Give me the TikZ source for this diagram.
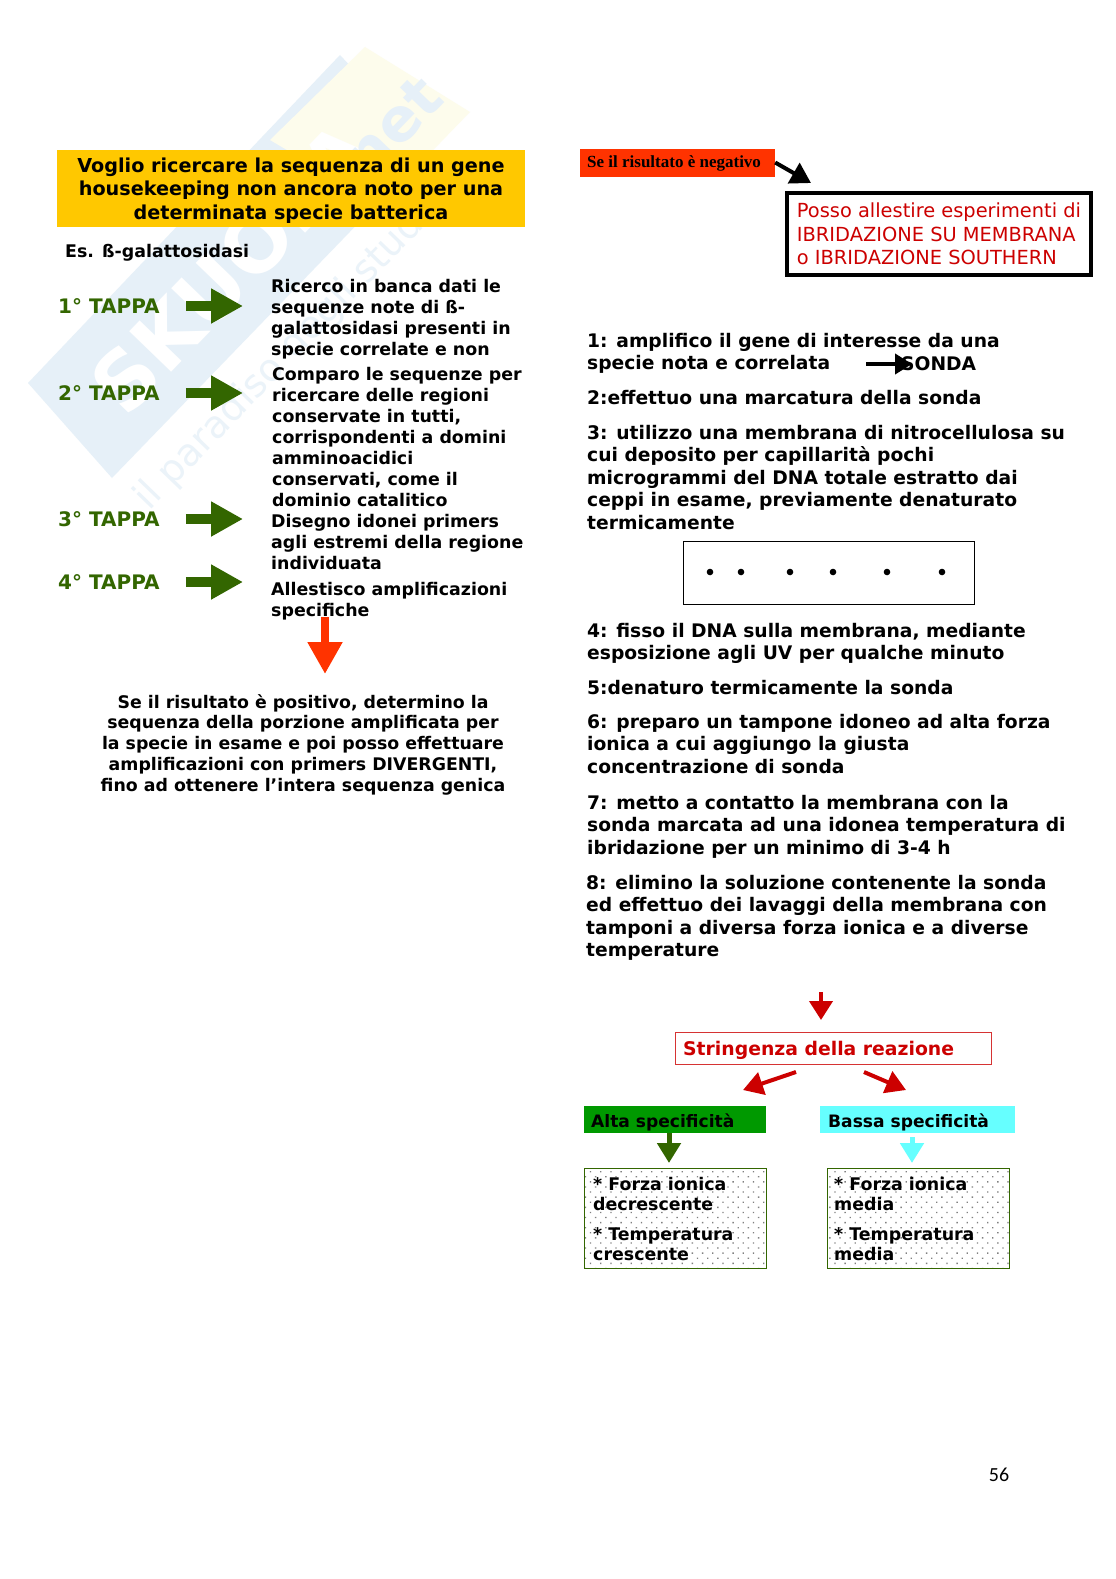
\documentclass[tikz,border=0pt]{standalone}
\usepackage{fontspec}
\setmainfont{DejaVu Sans}
\newfontfamily\timesbold{Liberation Serif}[BoldFont={Liberation Serif Bold}]
\newfontfamily\pagefont{Carlito}
\usetikzlibrary{arrows.meta,patterns.meta}
\definecolor{tappagreen}{HTML}{336600}
\definecolor{giallo}{HTML}{FFC800}
\definecolor{rosso}{HTML}{FF3300}
\definecolor{rossoscuro}{HTML}{CC0000}
\definecolor{ciano}{HTML}{66FFFF}
\definecolor{marchio}{HTML}{E6F0F8}
\definecolor{marchiogiallo}{HTML}{FDFCEC}
\tikzset{
    blocktext/.style={inner sep=0pt,anchor=north west,align=left,font=\bfseries\fontsize{17.4}{21}\selectfont},
    steptext/.style={inner sep=0pt,anchor=north west,align=left,font=\bfseries\fontsize{18.7}{22.4}\selectfont},
    tappalabel/.style={inner sep=0pt,anchor=west,text=tappagreen,font=\bfseries\fontsize{20}{21}\selectfont},
    greenarrow/.style={draw=tappagreen,line width=10pt,-{Triangle[length=32pt,width=33pt]},shorten <=26pt},
    redarrow/.style={draw=rossoscuro,line width=4pt,-{Triangle[length=20pt,width=23pt]}},
    dotbox/.style={draw=tappagreen,line width=1.2pt,minimum width=182pt,minimum height=100pt,anchor=north west,inner sep=0pt,fill=white,
        pattern={Dots[distance=7.2pt,radius=.95pt,angle=45]},pattern color=gray},
    specbox/.style={minimum height=27pt,anchor=north west,inner sep=0pt},
    boxtext/.style={inner sep=0pt,anchor=north west,align=left,font=\bfseries\fontsize{17.4}{20.3}\selectfont}
}
\begin{document}
\begin{tikzpicture}[x=1pt,y=-1pt]
    \useasboundingbox (0,0) rectangle (1116,1579);
    \fill[white] (0,0) rectangle (1116,1579);

    % watermark
    \fill[marchio] (28,383) -- (340,55) -- (429,150) -- (112,478) -- cycle;
    \fill[marchiogiallo] (365,47) -- (470,112) -- (380,205) -- (270,140) -- cycle;
    \node[rotate=46,white,font=\bfseries\fontsize{80}{80}\selectfont,inner sep=0pt] (marchio) at (232,268) {SKUOLA};
    \node[rotate=46,marchio,font=\bfseries\fontsize{60}{60}\selectfont,inner sep=0pt] (marchionet) at (385,135) {.net};
    \node[rotate=46,marchio!80!white,font=\fontsize{38}{38}\selectfont,inner sep=0pt] (motto) at (305,335) {il paradiso degli studenti};

    % left column
    \node[fill=giallo,minimum width=468pt,minimum height=77pt,inner sep=0pt] (titolo) at (291,188) {};
    \node[inner sep=0pt,align=center,font=\bfseries\fontsize{19.2}{23.3}\selectfont] (titolotesto) at (291,190.5)
          {Voglio ricercare la sequenza di un gene\\ housekeeping non ancora noto per una\\ determinata specie batterica};
    \node[blocktext,anchor=west] (esempio) at (65,253) {Es. ß-galattosidasi};

    \node[tappalabel] (tappa1) at (58,306) {1° TAPPA};
    \node[tappalabel] (tappa2) at (58,393) {2° TAPPA};
    \node[tappalabel] (tappa3) at (58,519) {3° TAPPA};
    \node[tappalabel] (tappa4) at (58,582) {4° TAPPA};

    \node[blocktext] (ricerco) at (271,279) {Ricerco in banca dati le\\ sequenze note di ß-\\ galattosidasi presenti in\\ specie correlate e non};
    \node[blocktext] (comparo) at (272,367) {Comparo le sequenze per\\ ricercare delle regioni\\ conservate in tutti,\\ corrispondenti a domini\\ amminoacidici\\ conservati, come il\\ dominio catalitico};
    \node[blocktext] (disegno) at (271,514) {Disegno idonei primers\\ agli estremi della regione\\ individuata};
    \node[blocktext] (allestisco) at (271,582) {Allestisco amplificazioni\\ specifiche};

    \coordinate (punta1) at (243,306);
    \coordinate (punta2) at (243,393);
    \coordinate (punta3) at (243,519);
    \coordinate (punta4) at (243,582);
    \foreach \n in {1,...,4}
        \draw[greenarrow] (tappa\n.east) -- (punta\n);

    \node[inner sep=0pt,align=center,font=\bfseries\fontsize{17.35}{20.8}\selectfont,anchor=north] (positivo) at (303,694)
        {Se il risultato è positivo, determino la\\ sequenza della porzione amplificata per\\ la specie in esame e poi posso effettuare\\ amplificazioni con primers DIVERGENTI,\\ fino ad ottenere l’intera sequenza genica};
    \coordinate (rossoinizio) at (325,617);
    \coordinate (rossofine) at (325,674);
    \draw[draw=rosso,line width=8pt,-{Triangle[length=32pt,width=33pt]}] (rossoinizio) -- (rossofine);

    % right column
    \node[fill=rosso,minimum width=195pt,minimum height=28pt,inner sep=0pt] (negativo) at (677.5,162.5) {};
    \node[inner sep=0pt,anchor=west,font=\timesbold\bfseries\fontsize{17}{18}\selectfont] (negtesto) at (587,163) {Se il risultato è negativo};
    \node[draw=black,line width=4pt,minimum width=304pt,minimum height=82pt,inner sep=0pt,text=rossoscuro,align=left,
          font=\fontsize{19.4}{23.3}\selectfont] (posso) at (939,234)
        {Posso allestire esperimenti di\\ IBRIDAZIONE SU MEMBRANA\\ o IBRIDAZIONE SOUTHERN};
    \coordinate (puntaneg) at (811,183);
    \draw[black,line width=4pt,-{Triangle[length=20pt,width=23pt]}] (negativo.east) -- (puntaneg);

    \node[steptext] (passo1) at (587,333) {1: amplifico il gene di interesse da una\\ specie nota e correlata};
    \node[steptext,anchor=west] (sonda) at (901,364) {SONDA};
    \coordinate (sondainizio) at (866,364);
    \draw[black,line width=4pt,-{Triangle[length=17pt,width=20pt]}] (sondainizio) -- (sonda.west) -- ++(11,0);
    \node[steptext] (passo2) at (587,390) {2:effettuo una marcatura della sonda};
    \node[steptext] (passo3) at (587,425) {3: utilizzo una membrana di nitrocellulosa su\\ cui deposito per capillarità pochi\\ microgrammi del DNA totale estratto dai\\ ceppi in esame, previamente denaturato\\ termicamente};

    \node[draw=black,line width=1.4pt,minimum width=291pt,minimum height=63pt,inner sep=0pt,anchor=north west] (membrana) at (683,541) {};
    \foreach \x in {710,741,790,833,887,942}
        \fill[black] (\x,572) circle (3.3pt);

    \node[steptext] (passo4) at (587,623) {4: fisso il DNA sulla membrana, mediante\\ esposizione agli UV per qualche minuto};
    \node[steptext] (passo5) at (587,680) {5:denaturo termicamente la sonda};
    \node[steptext] (passo6) at (587,714) {6: preparo un tampone idoneo ad alta forza\\ ionica a cui aggiungo la giusta\\ concentrazione di sonda};
    \node[steptext] (passo7) at (587,795) {7: metto a contatto la membrana con la\\ sonda marcata ad una idonea temperatura di\\ ibridazione per un minimo di 3-4 h};
    \node[steptext] (passo8) at (586,875) {8: elimino la soluzione contenente la sonda\\ ed effettuo dei lavaggi della membrana con\\ tamponi a diversa forza ionica e a diverse\\ temperature};

    \node[draw=rossoscuro!80,line width=1.2pt,minimum width=316pt,minimum height=32pt,inner sep=0pt,anchor=north west] (stringenza) at (675,1032) {};
    \node[inner sep=0pt,anchor=west,text=rossoscuro,font=\bfseries\fontsize{18.8}{22}\selectfont] (stringtesto) at (683,1050) {Stringenza della reazione};
    \coordinate (iniziostr) at (821,992);
    \draw[redarrow,-{Triangle[length=19pt,width=23pt]},shorten >=12pt] (iniziostr) -- (stringenza.north -| iniziostr);

    \node[specbox,fill=green!60!black,minimum width=182pt] (alta) at (584,1106) {};
    \node[inner sep=0pt,anchor=west,text=black,font=\bfseries\fontsize{17.1}{20}\selectfont] (altatesto) at (591,1122) {Alta specificità};
    \node[specbox,fill=ciano,minimum width=195pt] (bassa) at (820,1106) {};
    \node[inner sep=0pt,anchor=west,text=black,font=\bfseries\fontsize{17.1}{20}\selectfont] (bassatesto) at (828,1122) {Bassa specificità};

    \coordinate (altapunta) at (743,1090);
    \coordinate (bassapunta) at (906,1090);
    \coordinate (altainizio) at (796,1072);
    \coordinate (bassainizio) at (864,1072);
    \draw[redarrow] (altainizio) -- (altapunta);
    \draw[redarrow] (bassainizio) -- (bassapunta);

    \node[dotbox] (altabox) at (584,1168) {};
    \node[dotbox] (bassabox) at (827,1168) {};
    \node[boxtext] (altatext) at (593,1177) {* Forza ionica\\ decrescente\\[9pt] * Temperatura\\ crescente};
    \node[boxtext] (bassatext) at (834,1177) {* Forza ionica\\ media\\[9pt] * Temperatura\\ media};

    \coordinate (altafine) at (669,1163);
    \coordinate (bassafine) at (912,1163);
    \draw[draw=tappagreen,line width=5pt,-{Triangle[length=20pt,width=23pt]}] (alta.south -| altafine) -- (altafine);
    \draw[draw=ciano,line width=5pt,-{Triangle[length=20pt,width=23pt]}] (bassa.south -| bassafine) ++(0,4) -- (bassafine);

    \node[inner sep=0pt,font=\pagefont\fontsize{20}{24}\selectfont] (pagina) at (999,1475) {56};
\end{tikzpicture}
\end{document}
